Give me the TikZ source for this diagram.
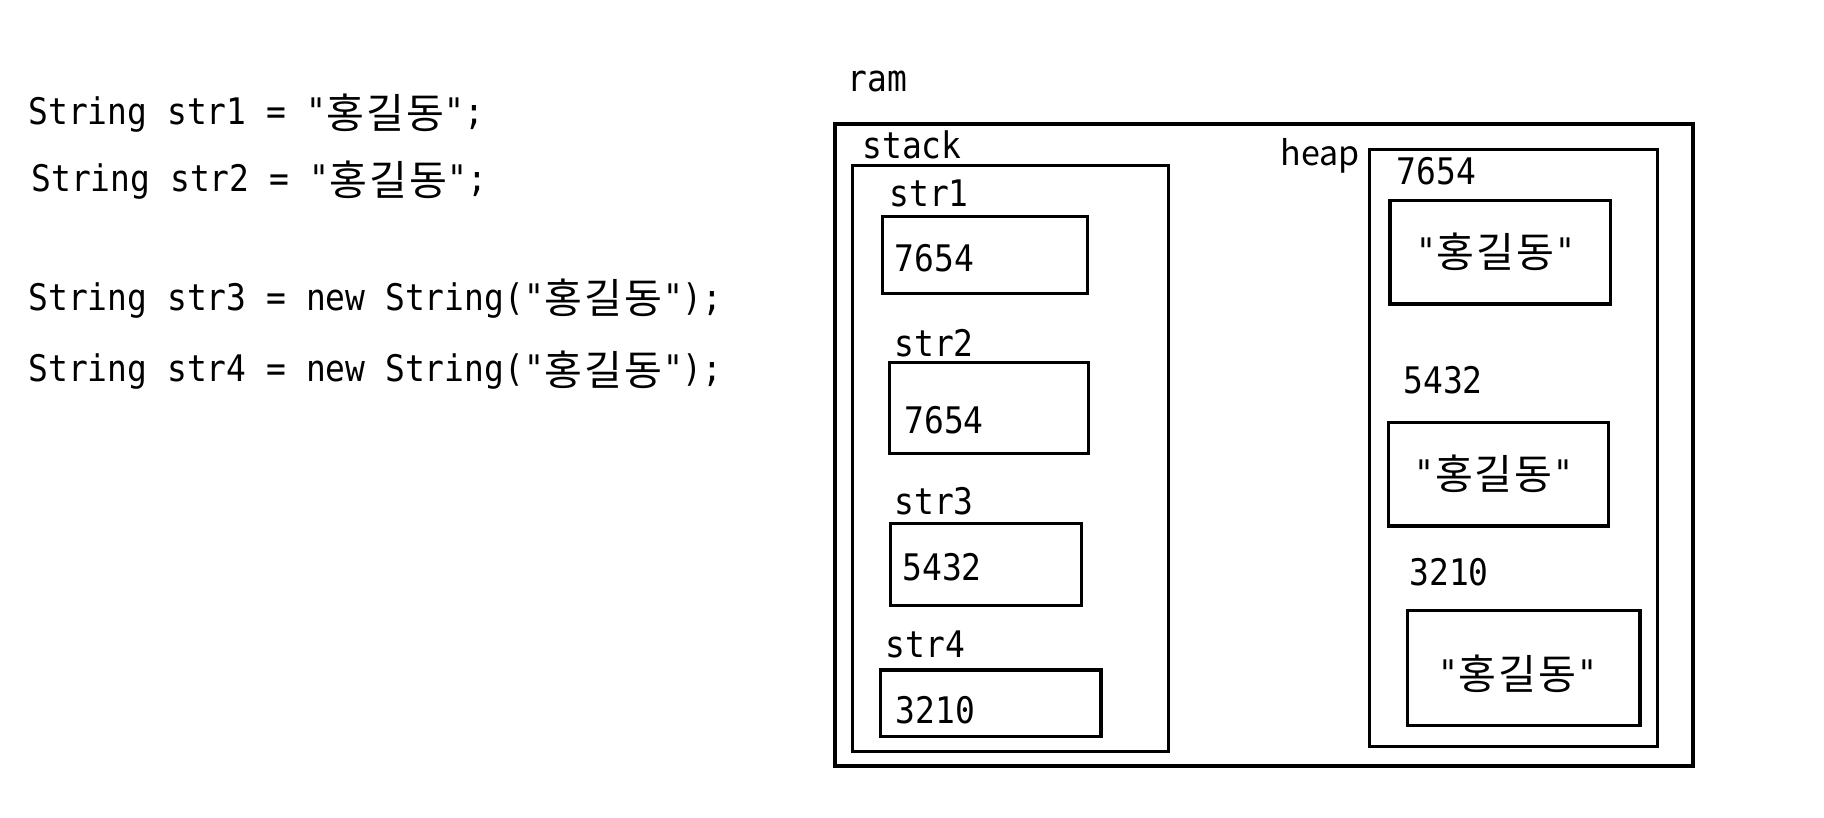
\documentclass[tikz,border=0pt]{standalone}
\usepackage{fontspec}
\usetikzlibrary{fit}
\newfontfamily\monofnt{DejaVu Sans Mono}[FakeStretch=0.90]
\newfontfamily\krfnt{Noto Sans CJK KR}
\newfontfamily\heapfnt{Noto Sans CJK KR}
\newcommand\kc[1]{\makebox[19.85pt][c]{\raisebox{-1.7pt}{\krfnt\fontsize{20.6pt}{24pt}\selectfont #1}}}
\newcommand\HGD{\kc{홍}\kc{길}\kc{동}}
\tikzset{
  txt/.style={font=\monofnt\fontsize{18.3pt}{22pt}\selectfont, inner sep=0pt, anchor=base west},
  heaplbl/.style={font=\heapfnt\fontsize{17pt}{20pt}\selectfont, inner sep=0pt, anchor=base west},
  outerbox/.style={draw=black, line width=2pt, inner sep=0pt},
  membox/.style={draw=black, line width=1.75pt, inner sep=0pt},
}
\begin{document}
\begin{tikzpicture}[x=0.5pt,y=-0.5pt]
\useasboundingbox (0,0) rectangle (1824,818);
% code lines
\node[txt] (c1) at (28,125) {String str1 = "\HGD";};
\node[txt] (c2) at (31,191.7) {String str2 = "\HGD";};
\node[txt] (c3) at (28,310) {String str3 = new String("\HGD");};
\node[txt] (c4) at (28,381.7) {String str4 = new String("\HGD");};
% boxes
\node[outerbox, fit={(835,124.5) (1692.6,765.5)}] (ram) {};
\node[membox, fit={(852.5,165.7) (1168.7,751.7)}] (stack) {};
\node[membox, fit={(882.7,216.7) (1087.7,293.3)}] (s1box) {};
\node[membox, fit={(889.3,362.7) (1088.7,453.3)}] (s2box) {};
\node[membox, fit={(890.3,523.3) (1081.3,605.3)}] (s3box) {};
\node[membox, fit={(880.3,670) (1101,736.7)}] (s4box) {};
\node[membox, fit={(1369.3,149.4) (1657.3,746.4)}] (heap) {};
\node[membox, fit={(1390,200.5) (1610.7,304)}] (h1box) {};
\node[membox, fit={(1388.3,422.3) (1608.3,525.8)}] (h2box) {};
\node[membox, fit={(1407.3,610.3) (1640,725.3)}] (h3box) {};
% labels
\node[txt] (ramlbl) at (847,91.7) {ram};
\node[txt] (stacklbl) at (862,158.3) {stack};
\node[txt] (s1lbl) at (889,206.7) {str1};
\node[txt] (s1val) at (894.5,271) {7654};
\node[txt] (s2lbl) at (894,356.7) {str2};
\node[txt] (s2val) at (904,433.3) {7654};
\node[txt] (s3lbl) at (894,514) {str3};
\node[txt] (s3val) at (902,580) {5432};
\node[txt] (s4lbl) at (885.5,657.3) {str4};
\node[txt] (s4val) at (895.5,723.3) {3210};
\node[heaplbl] (heaplbl) at (1280,165.4) {heap};
\node[txt] (h1lbl) at (1396.5,184.5) {7654};
\node[txt] (h2lbl) at (1403,393.6) {5432};
\node[txt] (h3lbl) at (1409,585.8) {3210};
\node[txt, anchor=base] (h1val) at (1495.5,264) {"\HGD"};
\node[txt, anchor=base] (h2val) at (1493.9,486) {"\HGD"};
\node[txt, anchor=base] (h3val) at (1517.5,686) {"\HGD"};
\end{tikzpicture}
\end{document}
